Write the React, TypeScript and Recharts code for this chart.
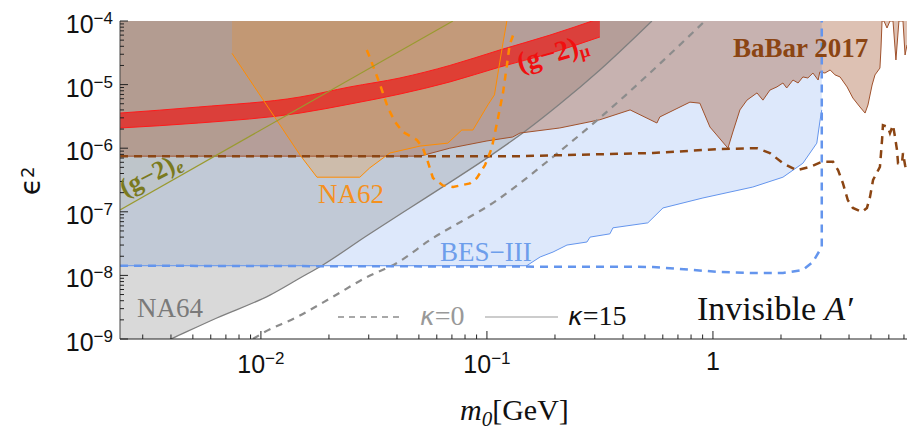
import React from 'react';
import { ComposedChart, Area, Line, XAxis, YAxis } from 'recharts';

const TOP = 1e-4;

// NA64, kappa = 15 (solid gray edge of the excluded region)
const na64M = [0.00238, 0.004, 0.00638, 0.01096, 0.0149, 0.0188, 0.0294, 0.0456, 0.0685, 0.103, 0.15, 0.21, 0.316, 0.537];
const na64Eps = [4.3e-10, 1e-9, 2.14e-9, 4.9e-9, 9.1e-9, 1.46e-8, 4.2e-8, 1.15e-7, 2.9e-7, 7.5e-7, 1.93e-6, 4.95e-6, 1.7e-5, 1e-4];

// NA64, kappa = 0 (dashed gray)
const na64k0M = [0.00922, 0.0102, 0.0144, 0.0208, 0.0294, 0.04, 0.056, 0.111, 0.196, 0.316, 0.922];
const na64k0Eps = [1e-9, 1.24e-9, 2.2e-9, 4.6e-9, 9.4e-9, 1.57e-8, 3.6e-8, 1.53e-7, 7.3e-7, 3.0e-6, 1e-4];

// BES-III excluded region, lower edge
const besM = [0.00238, 0.15, 0.172, 0.196, 0.226, 0.277, 0.286, 0.35, 0.361, 0.515, 0.601, 0.903, 1.5, 2.04, 2.5, 2.88, 2.98, 3.03];
const besEps = [1.42e-8, 1.42e-8, 1.95e-8, 2.33e-8, 3.0e-8, 3.35e-8, 4.0e-8, 4.5e-8, 5.6e-8, 6.7e-8, 1.15e-7, 1.65e-7, 2.45e-7, 3.5e-7, 5.8e-7, 1.2e-6, 2.8e-6, 4.0e-6];

// BES-III projection (dashed blue)
const besFutM = [0.00238, 0.543, 1.07, 1.5, 2.04, 2.5, 2.77, 3.03, 3.03];
const besFutEps = [1.42e-8, 1.36e-8, 1.13e-8, 1.09e-8, 1.09e-8, 1.22e-8, 1.63e-8, 2.8e-8, 1e-4];

// BaBar 2017, lower edge
const babarM = [0.00238, 0.0506, 0.0685, 0.1, 0.13, 0.14, 0.21, 0.316, 0.43, 0.565, 0.582, 0.791, 0.875, 0.97, 1.165, 1.225, 1.316, 1.414, 1.566, 1.664, 1.787, 1.919, 2.04, 2.12, 2.26, 2.38, 2.5, 2.63, 2.77, 2.92, 2.97, 3.13, 3.3, 3.47, 3.65, 3.92, 4.16, 4.47, 4.71, 4.85, 5.06, 5.21, 5.48, 5.54, 5.6, 5.71, 5.89, 6.07, 6.26, 6.45, 6.65, 6.93, 7.08, 7.22];
const babarEps = [7.5e-7, 7.5e-7, 1e-6, 1.3e-6, 1.5e-6, 1.73e-6, 2.08e-6, 2.8e-6, 4e-6, 2.49e-6, 3.1e-6, 5.3e-6, 5.1e-6, 2.15e-6, 1e-6, 1.8e-6, 4e-6, 5.7e-6, 7.4e-6, 5.7e-6, 8.2e-6, 9.2e-6, 1.06e-5, 8.85e-6, 1.18e-5, 1.06e-5, 1.32e-5, 1.27e-5, 1.52e-5, 1.18e-5, 1.58e-5, 1.52e-5, 1.7e-5, 1.42e-5, 1.32e-5, 9.2e-6, 6.15e-6, 4.45e-6, 3.57e-6, 4.78e-6, 9.86e-6, 1.42e-5, 1.82e-5, 3.76e-5, 1e-4, 1e-4, 7.76e-5, 1e-4, 1e-4, 2.44e-5, 1e-4, 1e-4, 2.92e-5, 4.2e-5];

// Belle II style projection (dashed brown)
const brownM = [0.00238, 0.14, 0.543, 1.07, 1.566, 1.787, 2.04, 2.35, 2.69, 3.03, 3.4, 3.58, 3.76, 3.95, 4.16, 4.56, 4.8, 4.95, 5.11, 5.48, 5.6, 5.65, 5.94, 6.07, 6.26, 6.39, 6.52, 6.59, 6.86, 6.93, 7.08, 7.22];
const brownEps = [7.5e-7, 7.5e-7, 8.4e-7, 9.7e-7, 1e-6, 8.4e-7, 5.8e-7, 4.5e-7, 5.1e-7, 6.1e-7, 6.1e-7, 4.5e-7, 2.8e-7, 1.53e-7, 1.15e-7, 9.9e-8, 1.15e-7, 1.7e-7, 3.16e-7, 5.1e-7, 1.35e-6, 2.3e-6, 2.15e-6, 1.73e-6, 2.3e-6, 1.5e-6, 9.4e-7, 5.8e-7, 5.8e-7, 8.4e-7, 5.4e-7, 4.2e-7];

// NA62 excluded region, lower edge
const na62M = [0.00745, 0.0149, 0.0177, 0.0274, 0.0303, 0.0372, 0.0506, 0.0671, 0.0774, 0.0867, 0.101, 0.108, 0.114, 0.118, 0.1225];
const na62Eps = [3.1e-5, 7.8e-7, 3.5e-7, 3.5e-7, 4.9e-7, 8.4e-7, 1.08e-6, 1.2e-6, 1.93e-6, 1.93e-6, 4.8e-6, 6.9e-6, 2.26e-5, 4.7e-5, 1e-4];

// NA62 projection (dashed orange)
const na62FutM = [0.0294, 0.0303, 0.0337, 0.0365, 0.0392, 0.0425, 0.049, 0.0521, 0.0548, 0.0577, 0.0638, 0.0708, 0.0841, 0.0903, 0.098, 0.105, 0.112, 0.118, 0.1225, 0.126, 0.132];
const na62FutEps = [3.5e-5, 2.7e-5, 9.9e-6, 4.3e-6, 2.6e-6, 1.8e-6, 1.35e-6, 1e-6, 6.1e-7, 3.4e-7, 2.6e-7, 2.45e-7, 2.8e-7, 3.4e-7, 5.4e-7, 1e-6, 3e-6, 7.7e-6, 2e-5, 4.2e-5, 6.7e-5];

// (g-2)_mu band
const gmM = [0.00238, 0.0053, 0.0149, 0.0248, 0.0412, 0.0685, 0.114, 0.19, 0.316];
const gmLow = [2.08e-6, 2.49e-6, 3.57e-6, 4.95e-6, 7.1e-6, 1.1e-5, 1.89e-5, 3.1e-5, 5.6e-5];
const gmHigh = [3.57e-6, 4.44e-6, 6.38e-6, 9.2e-6, 1.27e-5, 2.0e-5, 3.5e-5, 6.0e-5, 1.1e-4];

// (g-2)_e bound
const geM = [0.00238, 0.0707];
const geEps = [1.07e-7, 1e-4];

const xMajor = [0.01, 0.1, 1];
const xMinor = [0.003, 0.004, 0.005, 0.006, 0.007, 0.008, 0.009, 0.02, 0.03, 0.04, 0.05, 0.06, 0.07, 0.08, 0.09, 0.2, 0.3, 0.4, 0.5, 0.6, 0.7, 0.8, 0.9, 2, 3, 4, 5, 6, 7];
const yMajor = [1e-9, 1e-8, 1e-7, 1e-6, 1e-5, 1e-4];
const yMinorSteps = [2, 3, 4, 5, 6, 7, 8, 9];

const xTicks = [...xMinor, ...xMajor].sort((a, b) => a - b);
const yTicks = [...yMajor, ...yMajor.slice(0, -1).flatMap((d) => yMinorSteps.map((k) => k * d))].sort((a, b) => a - b);

const edge = (m: number[], e: number[]) => m.map((v, i) => ({ m: v, e: e[i], r: [e[i], TOP] }));
const besData = edge(besM, besEps);
const besFutData = edge(besFutM, besFutEps);
const na64Data = edge(na64M, na64Eps);
const na64k0Data = edge(na64k0M, na64k0Eps);
const babarData = edge(babarM, babarEps);
const brownData = edge(brownM, brownEps);
const na62Data = edge(na62M, na62Eps);
const na62FutData = edge(na62FutM, na62FutEps);
const geData = edge(geM, geEps);
const gmData = gmM.map((v, i) => ({ m: v, r: [gmLow[i], gmHigh[i]] }));

const SANS = "'Liberation Sans', Arial, sans-serif";
const SERIF = "'Liberation Serif', 'Times New Roman', serif";
const AXIS = '#222';

const isMajor = (v: number) => {
  const l = Math.log10(v);
  return Math.abs(l - Math.round(l)) < 1e-6;
};

const powLabel = (v: number, x: number, y: number, anchor: 'middle' | 'end') => {
  const p = Math.round(Math.log10(v));
  if (p === 0) {
    return (
      <text x={x} y={y - 3} textAnchor={anchor} fontFamily={SANS} fontSize={25} fill="#111">1</text>
    );
  }
  return (
    <text x={x} y={y} textAnchor={anchor} fontFamily={SANS} fontSize={25} fill="#111">
      10<tspan fontSize={17} dy={-9}>{'\u2212' + Math.abs(p)}</tspan>
    </text>
  );
};

const BottomTick = (props: any) => {
  const { x, y, payload } = props;
  const major = isMajor(payload.value);
  return (
    <g>
      <line x1={x} x2={x} y1={y} y2={y - (major ? 8 : 4.5)} stroke={AXIS} strokeWidth={1} />
      {major && powLabel(payload.value, x, y + 34, 'middle')}
    </g>
  );
};

const TopTick = (props: any) => {
  const { x, y, payload } = props;
  const major = isMajor(payload.value);
  return <line x1={x} x2={x} y1={y} y2={y + (major ? 8 : 4.5)} stroke={AXIS} strokeWidth={1} />;
};

const LeftTick = (props: any) => {
  const { x, y, payload } = props;
  const major = isMajor(payload.value);
  return (
    <g>
      <line x1={x} x2={x + (major ? 8 : 4)} y1={y} y2={y} stroke={AXIS} strokeWidth={1} />
      {major && powLabel(payload.value, x - 7, y + 12, 'end')}
    </g>
  );
};

const region = (data: any[], fill: string, opacity: number, type: any = 'linear') => (
  <Area
    data={data}
    dataKey="r"
    type={type}
    stroke="none"
    fill={fill}
    fillOpacity={opacity}
    dot={false}
    activeDot={false}
    isAnimationActive={false}
  />
);

const curve = (data: any[], color: string, width: number, dash?: string, type: any = 'linear') => (
  <Line
    data={data}
    dataKey="e"
    type={type}
    stroke={color}
    strokeWidth={width}
    strokeDasharray={dash}
    dot={false}
    activeDot={false}
    isAnimationActive={false}
  />
);

export default function App() {
  return (
    <div style={{ position: 'absolute', left: 0, top: 0, width: 907, height: 431, background: '#fff' }}>
      <ComposedChart width={907} height={431} margin={{ top: 21, right: 0, bottom: 0, left: 0 }}>
        <XAxis
          dataKey="m"
          type="number"
          scale="log"
          domain={[0.00238, 7.22]}
          allowDataOverflow
          ticks={xTicks}
          interval={0}
          tick={<BottomTick />}
          tickLine={false}
          tickSize={0}
          tickMargin={0}
          height={92}
          axisLine={{ stroke: AXIS }}
        />
        <XAxis
          xAxisId="top"
          orientation="top"
          dataKey="m"
          type="number"
          scale="log"
          domain={[0.00238, 7.22]}
          allowDataOverflow
          ticks={xTicks}
          interval={0}
          tick={<TopTick />}
          tickLine={false}
          tickSize={0}
          tickMargin={0}
          height={0}
          axisLine={{ stroke: AXIS }}
        />
        <YAxis
          type="number"
          scale="log"
          domain={[1e-9, 1e-4]}
          allowDataOverflow
          ticks={yTicks}
          interval={0}
          tick={<LeftTick />}
          tickLine={false}
          tickSize={0}
          tickMargin={0}
          width={120}
          axisLine={{ stroke: '#444' }}
        />
        {region(besData, '#6495ed', 0.22)}
        {region(na64Data, '#808080', 0.3, 'monotoneX')}
        {region(geData, '#999933', 0.07)}
        {region(babarData, '#a0522d', 0.36)}
        {region(na62Data, '#ff8c00', 0.2)}
        <Area
          data={gmData}
          dataKey="r"
          type="monotoneX"
          stroke="#ff1a1a"
          strokeWidth={1}
          fill="#e8201e"
          fillOpacity={0.75}
          dot={false}
          activeDot={false}
          isAnimationActive={false}
        />
        {curve(besData, '#6495ed', 1)}
        {curve(na64Data, '#7f7f7f', 1.3, undefined, 'monotoneX')}
        {curve(babarData, '#a0522d', 1)}
        {curve(na62Data, '#ff8c00', 1)}
        {curve(na64k0Data, '#8c8c8c', 2.2, '7 6', 'monotoneX')}
        {curve(besFutData, '#6495ed', 2.5, '8 6')}
        {curve(brownData, '#8b4513', 2.5, '8 6')}
        {curve(na62FutData, '#ff8c00', 2.5, '7 6')}
        {curve(geData, '#9a9a30', 1.2)}
      </ComposedChart>

      <svg width={907} height={431} style={{ position: 'absolute', left: 0, top: 0, pointerEvents: 'none' }}>
        <text x={733} y={57} fontFamily={SERIF} fontWeight="bold" fontSize={27} fill="#8b4513">BaBar 2017</text>
        <text transform="rotate(-16 520 72)" x={520} y={72} fontFamily={SERIF} fontWeight="bold" fontSize={28} fill="#f01010">
          (g{'\u2212'}2)<tspan fontSize={18} dy={4}>μ</tspan>
        </text>
        <text transform="rotate(-27 125 197)" x={125} y={197} fontFamily={SERIF} fontWeight="bold" fontSize={26} fill="#7a7a1e">
          (g{'\u2212'}2)<tspan fontStyle="italic" fontSize={18} dy={4}>e</tspan>
        </text>
        <text x={318} y={203} fontFamily={SERIF} fontSize={27} fill="#f5911e">NA62</text>
        <text x={440} y={261} fontFamily={SERIF} fontSize={27} fill="#6d9eeb">BES{'\u2212'}III</text>
        <text x={137} y={317} fontFamily={SERIF} fontSize={27} fill="#7a7a7a">NA64</text>

        <line x1={338} x2={403} y1={317} y2={317} stroke="#8c8c8c" strokeWidth={1.5} strokeDasharray="6 5" />
        <text x={420} y={325} fontFamily={SERIF} fontSize={28} fill="#999">
          <tspan fontFamily="'DejaVu Sans', sans-serif" fontStyle="italic" fontSize={25}>κ</tspan>=0
        </text>
        <line x1={485} x2={558} y1={317} y2={317} stroke="#999" strokeWidth={1.2} />
        <text x={568} y={325} fontFamily={SERIF} fontSize={28} fill="#111">
          <tspan fontFamily="'DejaVu Sans', sans-serif" fontStyle="italic" fontSize={25}>κ</tspan>=15
        </text>
        <text x={697} y={320} fontFamily={SERIF} fontSize={34} fill="#111">
          Invisible <tspan fontStyle="italic">A{'\u2032'}</tspan>
        </text>

        <text x={460} y={420} fontFamily={SERIF} fontSize={30} fill="#111">
          <tspan fontStyle="italic">m</tspan>
          <tspan fontStyle="italic" fontSize={21} dy={6}>0</tspan>
          <tspan dy={-6}>[GeV]</tspan>
        </text>
        <text transform="rotate(-90 40 181)" x={40} y={181} textAnchor="middle" fontFamily="'DejaVu Sans', sans-serif" fontSize={28} fill="#111">
          ϵ<tspan fontSize={18} dy={-6}>2</tspan>
        </text>
      </svg>
    </div>
  );
}
